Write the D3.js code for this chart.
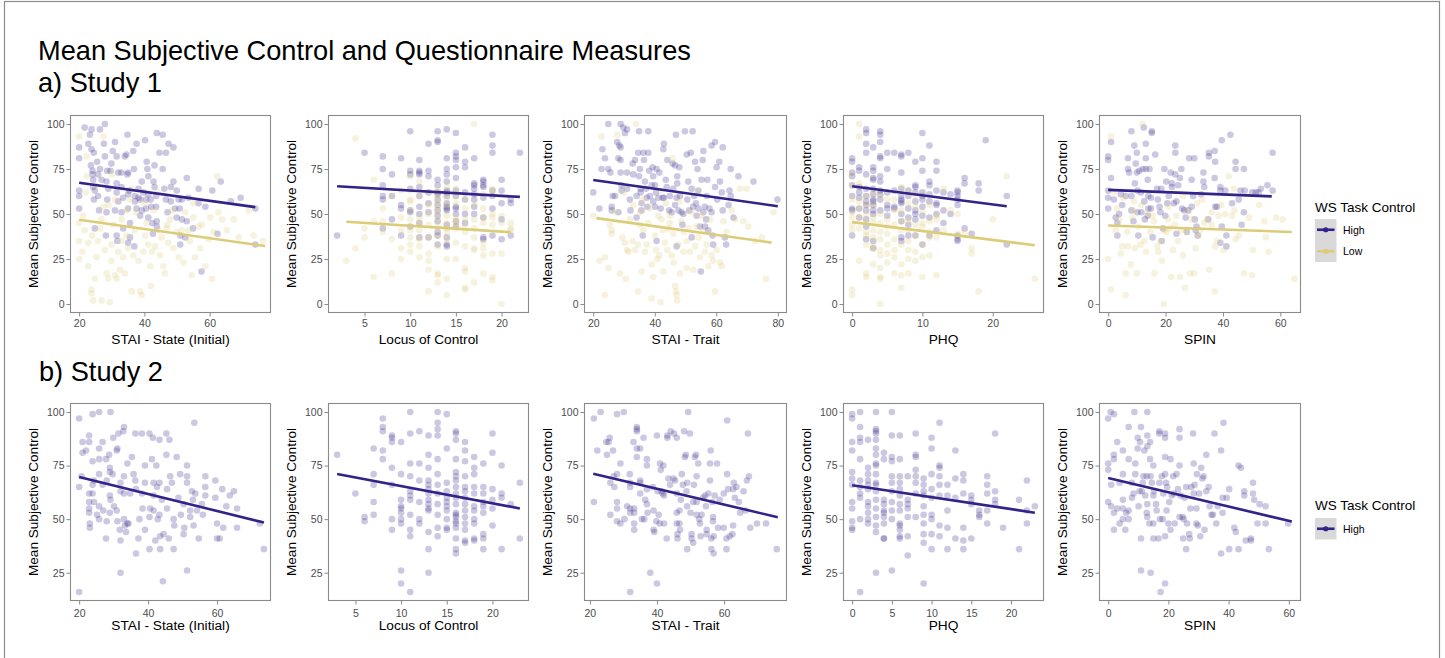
<!DOCTYPE html>
<html><head><meta charset="utf-8">
<script src="https://cdn.jsdelivr.net/npm/d3@7/dist/d3.min.js"></script>
<style>
html,body{margin:0;padding:0;background:#fff;}
svg text{font-family:"Liberation Sans",Arial,Helvetica,sans-serif;}
</style></head>
<body>
<svg id="chart" width="1445" height="658"></svg>
<script>
// ---------------- DATA ----------------
const MEASURES = ["STAI - State (Initial)", "Locus of Control", "STAI - Trait", "PHQ", "SPIN"];
const GROUPS = ["High", "Low"];
const Y_TICKS_S1 = [0, 25, 50, 75, 100];
const Y_TICKS_S2 = [25, 50, 75, 100];
const Y_LIMITS_S1 = [-5, 105];
const Y_LIMITS_S2 = [11.8, 104.2];
const X_LIMITS_S1 = [[17.2, 78.8], [1, 23], [17, 83], [-1.3, 27.3], [-3.2, 67.2]];
const X_LIMITS_S2 = [[17.35, 75.65], [2, 24], [18.25, 78.75], [-1.15, 24.15], [-3.05, 64.05]];
const X_TICKS_S1 = [[20, 40, 60], [5, 10, 15, 20], [20, 40, 60, 80], [0, 10, 20], [0, 20, 40, 60]];
const X_TICKS_S2 = [[20, 40, 60], [5, 10, 15, 20], [20, 40, 60], [0, 5, 10, 15, 20], [0, 20, 40, 60]];

// fitted lines [x0, y0, x1, y1]
const FIT_S1_HIGH = [[20, 67.4, 74, 53.8], [2, 65.4, 22, 59.5], [20, 68.9, 80, 54.3], [0, 65.4, 22, 54.3], [0, 63.4, 57, 59.8]];
const FIT_S1_LOW = [[20, 46.8, 77, 32.2], [3, 45.7, 21, 39.9], [21, 47.7, 78, 34.1], [0, 45.5, 26, 32.6], [0, 43.6, 64, 40]];
const FIT_S2_HIGH = [[20, 69.7, 73.6, 48.4], [3, 71.1, 23, 55.0], [21, 71.2, 76, 50.9], [0, 65.8, 23, 53.0], [0, 69.2, 61, 48.9]];

// Study 1 - STAI State
const S1_STATE_HIGH = [[20,87],[20,81],[20,63],[20,60],[20,53],[21.7,98],[22.8,89],[23.3,94],[23.8,97],[23.8,86],[24.5,84],[23.6,77],[24.1,74],[24.1,72],[24.3,69],[24.3,65],[24.8,63],[24.5,58],[25.5,79],[26.4,97],[26.4,75],[25.8,72],[26.9,69],[25.8,60],[26.1,52],[24.8,42],[27.9,82],[27.6,89],[27.9,100],[28.6,74],[28.4,68],[28.9,64],[28.6,58],[28.4,51],[28.2,38],[29.6,74],[29.9,78],[30.3,85],[31,90],[31.5,82],[32,73],[31.5,67],[31.5,62],[32,57],[31,52],[31.5,38],[31.7,35],[33,73],[33,65],[33.5,59],[33,51],[33.5,42],[34,82],[34.5,83],[34.8,94],[35,73],[34.8,72],[35.4,63],[35,61],[35,53],[35.6,45],[35.6,37],[35,34],[36.6,85],[36.8,75],[37.1,60],[37.1,57],[37.6,53],[36.9,32],[37.6,89],[38.2,64],[38.2,59],[38.7,58],[38.7,49],[39.2,52],[39.2,68],[40.2,91],[39.7,62],[40.5,58],[40.5,53],[40.7,79],[40.9,75],[41.2,71],[41.2,48],[41.2,61],[41.9,58],[42.1,54],[42.4,45],[42.6,39],[42.8,68],[43.1,77],[43.1,65],[43.6,60],[43.6,54],[43.8,46],[43.8,43],[43.8,95],[44.6,84],[45.6,94],[45.6,75],[46.1,64],[46.6,84],[46.6,58],[47.1,51],[47.4,89],[48.1,65],[48.1,57],[48.9,87],[48.9,68],[49.4,53],[49.9,63],[49.9,48],[50.5,58],[50.8,53],[51,38],[51,33],[51.5,47],[51.5,58],[52.5,37],[53,70],[53.5,59],[53,46],[54.9,42],[56.6,56],[56.6,64],[57.5,18],[58.7,54],[60.8,63],[62.4,39],[63.4,68],[66.5,57],[69.5,59],[74,53],[74,33]];
const S1_STATE_LOW = [[20,45],[20,35],[20,25],[21,29],[21.2,49],[21.7,41],[22,62],[22.8,21],[22.8,34],[23.8,8],[23.8,6],[24.3,2],[24.8,14],[25.3,26],[25.8,35],[26.4,42],[26.9,47],[27.4,54],[26.9,2],[27.9,30],[28.4,17],[28.9,14],[29.4,1],[29.9,33],[29.9,24],[30.5,44],[31,58],[31,16],[31.5,14],[32,29],[32.5,19],[33,35],[33.5,26],[34,17],[34.5,38],[34.5,52],[35,31],[35.6,58],[36.1,7],[36.6,27],[37.1,41],[37.5,51],[38.2,24],[38.7,7],[39.2,5],[39.7,29],[40.2,38],[40.7,45],[41.2,33],[41.8,21],[42,10],[42.3,29],[42.8,52],[43.3,32],[44.3,41],[44.8,27],[45.3,37],[45.8,21],[46.3,17],[46.8,42],[47.3,34],[47.9,47],[48.4,52],[48.9,31],[49.9,40],[50.5,26],[51.5,41],[52,23],[52.5,51],[53.5,41],[53.9,35],[54.5,16],[55,48],[55.5,26],[56.6,43],[57.1,31],[57.6,44],[58.7,21],[59.7,36],[60.2,48],[60.7,14],[61.2,40],[62.7,51],[63.8,47],[65.3,41],[67.4,47],[68.9,37],[72,52],[73.5,38],[76.4,35],[62.3,71],[20,93],[27.4,93],[22.3,82],[22.3,71],[30,72],[25,66],[36,64],[44,62],[29,55],[40,56],[33,47],[47,44],[24,38],[55,56]];

// Study 1 - Locus of Control (x, [y values])
const S1_LOCUS_HIGH = [[2,[38]],[5,[84]],[7,[82,75,66,60,58,42]],[8,[72,60,47]],[9,[81,55,53,38]],[10,[96,74,72,64,52,51,43]],[11,[80,74,73,72,65,60,54,50,45,37]],[12,[89,74,71,62,56,51,37]],[13,[96,91,90,69,66,62,61,58,55,52,49,46,40,38,33]],[14,[97,81,75,72,68,63,62,60,56,54,53,52,44,37,33,32]],[15,[95,84,82,80,76,70,63,60,54,53,50,46,43]],[16,[87,79,76,62,58,50,45]],[17,[81,67,66,64,61,58,54,50]],[18,[69,68,66,65,59,48,37,36]],[19,[94,88,84,63,60,53,38]],[20,[69,63,56,47,36]],[21,[58,56,38]],[22,[84]]];
const S1_LOCUS_LOW = [[3,[24]],[4,[92,31]],[5,[42,37]],[6,[69,46,15]],[7,[53,46,40]],[8,[60,36,17]],[9,[63,48,41,31,25]],[10,[71,63,58,57,52,47,41,37,33,29]],[11,[68,60,48,45,41,36,32,26]],[12,[62,55,50,44,37,28,24,19,7]],[13,[63,60,57,54,51,47,43,38,32,17,16,12]],[14,[65,59,55,49,45,42,40,36,25,14,5]],[15,[64,60,56,48,46,44,42,34,25]],[16,[58,53,47,43,40,32,20,18,9,8]],[17,[100,55,47,42,37,31,30,12]],[18,[61,53,48,45,34,31,27,17]],[19,[64,62,50,48,44,28,15,13]],[20,[49,45,28,0]],[21,[45,42,41]]];

// Study 1 - STAI Trait
const S1_TRAIT_HIGH = [[20,62],[22,53],[22.7,75],[23,86],[23.8,81],[24.9,100],[24.9,75],[25.6,73],[26.3,60],[26,54],[26,52],[27.1,60],[27.8,90],[28.5,88],[28.2,81],[28.9,100],[28.9,87],[28.9,80],[28.9,73],[29.2,66],[29.2,63],[28.2,51],[29.8,98],[30.3,95],[31,97],[31,73],[31,64],[31.9,58],[32.1,52],[32.8,78],[33,72],[33.6,80],[34.1,60],[34.1,48],[34.6,84],[34.9,96],[35.2,75],[34.9,71],[35.4,64],[35.4,62],[35.7,56],[35.7,52],[36.1,38],[36.3,84],[36.5,80],[36.8,68],[37.1,64],[37.4,59],[37.6,54],[37.9,84],[37.9,96],[38.2,74],[38.4,60],[39,66],[39.3,76],[39.5,71],[39.5,57],[40.1,54],[40.1,66],[40.4,62],[40.6,75],[40.6,35],[41.2,59],[41.5,73],[41.9,53],[42.6,59],[42.8,86],[43,89],[43,59],[43.6,69],[43.9,65],[44.1,80],[44.7,52],[44.9,60],[45.5,51],[45.8,78],[46,64],[46.6,77],[46.6,55],[46.9,94],[47.1,59],[47.1,32],[47.3,71],[47.3,67],[47.7,52],[48,76],[48.2,60],[48.7,51],[49,44],[49.3,50],[49.8,96],[50.4,83],[50.6,58],[50.9,68],[51.2,52],[51.7,84],[52,64],[52,37],[52.3,96],[52.5,54],[52.8,60],[53.1,79],[53.4,56],[53.6,49],[53.9,75],[54.2,63],[54.2,53],[54.7,43],[55,18],[55.2,69],[55.6,80],[55.8,85],[55.8,51],[56.3,43],[56.3,54],[56.7,47],[56.9,60],[57.1,69],[57.4,41],[57.8,53],[58.5,88],[58.5,51],[58.8,38],[59,33],[59.6,90],[59.6,65],[60.1,76],[60.3,58],[61,79],[61.2,68],[61.8,62],[62.1,87],[62.1,52],[62.8,37],[63.2,33],[64,55],[64.3,63],[64.7,75],[65.6,48],[67.2,71],[72.1,68],[79.9,58],[64.7,60]];
const S1_TRAIT_LOW = [[20,49],[22,24],[22.7,93],[23.8,5],[23.8,26],[24.9,20],[25.4,44],[26,39],[26,41],[27.1,51],[27.8,94],[28.7,17],[29.5,37],[30.3,34],[30.6,14],[31,30],[31.4,29],[31.9,47],[32.8,35],[33.6,30],[33.9,100],[34.6,33],[34.6,7],[35.2,51],[35.2,44],[35.7,18],[36.3,41],[36.8,29],[37.4,33],[37.9,45],[38.4,53],[39,22],[39,3],[39.5,15],[40.1,38],[40.4,30],[40.8,25],[41.2,49],[41.5,27],[41.9,1],[42.2,47],[42.6,41],[42.8,18],[43.3,34],[43.6,56],[44.1,30],[44.4,42],[44.9,45],[45.5,27],[45.8,81],[46,39],[46.2,23],[46.6,10],[46.9,7],[47.1,5],[47.3,2],[47.7,33],[48.2,17],[48.7,46],[49.3,29],[49.5,40],[50.4,20],[50.4,35],[50.9,42],[51.4,29],[52,51],[52.5,19],[53.1,32],[53.6,43],[54.2,37],[54.7,26],[55.2,49],[55.8,41],[56.3,29],[56.9,33],[57.4,21],[58,47],[58.5,27],[59,24],[59.6,7],[60.1,30],[61.2,23],[61.8,21],[62.3,46],[63.4,40],[65,52],[66.1,47],[67.7,64],[68.8,46],[70.4,43],[72.6,35],[74.8,37],[76.2,14],[78.6,51],[69.9,64],[30,62],[36,58],[42,63],[48,57],[54,62],[33,55],[45,49]];

// Study 1 - PHQ (x, [y values])
const S1_PHQ_HIGH = [[0,[81,79,73,71,66,60,53,52,38]],[1,[76,74,65,62,59,53,48]],[2,[97,95,89,84,72,64,60,57,55,52,47,43,36]],[3,[87,76,74,70,69,64,61,58,57,55,52,50,35,31]],[4,[96,94,90,82,81,71,68,63,61,58,52]],[5,[84,75,62,55,53,49]],[6,[84,63,54,53]],[7,[83,82,73,64,60,58,57,56,50,46,37,35]],[8,[84,63,60,53,48,44,38]],[9,[79,66,65,62,57,52,50,47,38]],[10,[95,81,74,62,60,58,54,49,33]],[11,[88,68,66,61,57,48,38]],[12,[79,74,63,56,55,50,41]],[13,[62,52,45]],[14,[61,50]],[15,[63,62,60,58,55,38,36,35]],[16,[70,67,42]],[17,[39]],[18,[67,63]],[19,[91]],[22,[60,33]]];
const S1_PHQ_LOW = [[0,[72,66,58,51,48,44,41,8,5]],[1,[100,93,67,57,53,48,42,24]],[2,[60,55,50,46,40,38,33,17,15]],[3,[62,55,48,45,41,37,32,31,22]],[4,[60,50,45,40,36,30,27,20,15,14,0]],[5,[58,47,43,39,33,28,23]],[6,[58,52,44,36,30,26,17]],[7,[65,52,46,41,33,22,16,9]],[8,[62,56,46,41,35,30,25,17]],[9,[60,54,44,38,29,24]],[10,[61,51,45,43,33,26,15]],[11,[55,46,40,37,27]],[12,[49,47,37,16]],[13,[64,41]],[14,[52]],[15,[50,39]],[16,[40]],[17,[31,28]],[18,[7]],[20,[47]],[22,[71]],[26,[14]]];

// Study 1 - SPIN
const S1_SPIN_HIGH = [[0,82],[0,80],[0,63],[0,59],[0,53],[1,70],[1,90],[2,58],[2.6,48],[3.2,45],[3.2,38],[4.4,61],[3.8,50],[4.9,55],[6.1,60],[6.9,81],[6.9,75],[7.3,73],[8.1,96],[8.1,60],[8.1,52],[8.8,46],[9.1,88],[9.3,67],[9.6,78],[10,84],[10,73],[10.2,63],[10.2,51],[10.5,38],[10.8,74],[11.4,62],[11.6,51],[12,75],[12.4,98],[12.6,57],[12.8,47],[13.1,89],[13.1,81],[13.1,75],[13.8,69],[13.8,49],[14,60],[14,53],[14.4,75],[15.2,96],[15.2,95],[14.9,59],[14.9,53],[15.5,37],[16.4,83],[17,64],[17.3,58],[17.9,54],[18.2,51],[18.5,64],[18.7,35],[19.1,42],[19.6,75],[19.9,49],[20.2,68],[20.6,56],[21.1,60],[21.8,73],[22.2,67],[22.2,65],[22.9,56],[23.4,72],[23.4,88],[23.4,84],[23.8,57],[23.8,39],[24.4,66],[25,70],[25.5,75],[25.8,53],[26.5,52],[27,48],[27.4,40],[27.9,52],[28.2,81],[29.1,54],[29.1,69],[29.6,60],[30,81],[30.2,47],[30.5,41],[30.8,43],[31.2,38],[32.4,61],[33.2,73],[33.2,68],[33.5,65],[34.9,47],[35.1,82],[35.1,84],[37.1,85],[37.1,70],[37.3,79],[37.3,54],[37.9,54],[39.1,34],[39.1,65],[39.1,63],[39.6,43],[39.6,91],[40.8,63],[41.2,38],[41.2,32],[42.6,94],[43.2,56],[44.4,75],[44.4,79],[45.5,58],[46.5,44],[47.3,75],[47.3,51],[47.6,63],[51.4,62],[52.4,62],[53.2,64],[55.5,66],[57.3,84],[57.3,63],[50.2,62],[46.1,63]];
const S1_SPIN_LOW = [[0,25],[1,93],[1,8],[2,62],[2.6,41],[3.8,47],[4.4,28],[4.9,32],[5.3,59],[6.1,5],[6.1,17],[6.7,40],[6.9,32],[7.9,22],[8.5,48],[8.8,52],[9.3,31],[10,17],[10.5,43],[11.2,33],[11.6,55],[12,100],[12.6,35],[13.2,29],[13.8,50],[14.7,40],[15.5,49],[16.1,17],[17.1,32],[17.5,29],[18.2,35],[18.7,24],[19.4,0],[19.6,41],[20.2,40],[20.8,47],[21.4,42],[22,15],[22.6,30],[23.2,44],[23.8,49],[24.4,35],[25,15],[25.5,41],[26.1,27],[26.7,9],[27.3,41],[27.9,52],[28.5,17],[29.1,47],[30,17],[30.5,31],[31.4,38],[32,41],[32.8,58],[33.5,45],[34.4,47],[35.2,19],[36.1,51],[37.1,7],[37.3,32],[37.9,35],[38.5,49],[39.4,55],[40.2,30],[40.8,50],[42,71],[43.2,49],[43.8,64],[44.4,36],[45.5,38],[47.3,17],[49.1,48],[50.2,16],[50.5,30],[52.6,55],[54.4,46],[54.9,37],[55.9,29],[58.5,48],[60.8,47],[64.9,14],[3,53],[9,57],[16,46],[21,54],[26,60],[31,56],[36,44],[44,52]];

// Study 2 - STAI State
const S2_STATE_HIGH = [[20,97],[20,65],[20,16],[21,86],[21,81],[20.7,70],[22,82],[22.9,89],[22.9,86],[22.9,62],[22.9,58],[22.9,55],[22.9,53],[23.1,48],[23.1,46],[23.9,99],[23.9,77],[23.9,66],[23.9,62],[24.3,68],[24.3,58],[25.2,52],[25.8,100],[25.8,83],[25.8,78],[25.8,71],[25.8,56],[25.8,50],[26.8,86],[26.8,66],[27,54],[27.8,78],[28,68],[28,49],[27.8,41],[28.7,80],[28.9,74],[28.9,72],[28.9,61],[29.1,59],[28.9,53],[29.1,100],[29.7,71],[29.9,88],[30.1,56],[30.9,82],[31.1,83],[30.9,54],[31.1,49],[31.4,90],[31.8,45],[32,67],[32,63],[32,40],[32,25],[32.8,91],[33,93],[33,70],[33,62],[33,50],[33.3,47],[33.6,44],[34,76],[34,48],[34.3,48],[34.8,62],[35.3,79],[35.8,71],[36.3,68],[36.3,90],[36.5,34],[36.5,64],[37.2,41],[37.5,50],[38.2,90],[38.2,62],[38.4,55],[39.1,75],[39.1,67],[39.1,45],[40.4,90],[40.4,36],[40.4,51],[40.6,55],[41.1,78],[41.4,88],[41.6,67],[41.6,61],[41.6,54],[42.1,40],[42.4,75],[42.6,65],[42.8,50],[43.3,87],[43.3,67],[43.3,52],[43.5,42],[43.5,36],[44,59],[44.3,21],[44.5,43],[45.3,90],[45.3,80],[45.5,64],[45.5,55],[46,41],[46.2,87],[46.4,70],[46.9,67],[47.4,50],[47.4,36],[47.6,47],[48.3,79],[48.8,60],[49.3,71],[49.5,52],[50.3,57],[50.3,43],[50.5,46],[51.3,75],[51.3,70],[51.3,67],[51.3,26],[52.2,54],[52.2,51],[52.7,63],[53,59],[53.2,47],[53.4,95],[53.7,62],[54.2,54],[54.7,41],[55.6,57],[55.9,52],[56.6,65],[56.6,70],[56.6,61],[59.5,68],[59.5,60],[60,48],[60,41],[60.8,41],[61.5,64],[61.8,46],[62.7,56],[63.7,61],[64.9,63],[65.8,55],[65.8,46],[72.4,48],[73.6,36]];

// Study 2 - Locus of Control (x, [y values])
const S2_LOCUS_HIGH = [[3,[80]],[5,[62]],[6,[51,49]],[7,[83,71,66,58,52]],[8,[97,93,91,82,78]],[9,[89,88,86,74,66,50,45]],[10,[86,71,59,56,55,53,50,48,26,20]],[11,[100,90,76,70,63,61,59,52,45,42,16]],[12,[91,76,68,58,50,48]],[13,[89,80,74,68,66,64,62,59,57,55,54,44,36,25]],[14,[100,95,92,89,78,71,66,62,57,52,46,42]],[15,[99,83,67,63,60,58,56,54,50,46,45]],[16,[91,90,87,78,72,70,68,65,62,60,57,53,52,51,49,48,46,41,36,34]],[17,[86,82,77,70,65,63,60,57,54,51,48,45,40,39]],[18,[79,74,71,65,62,56,54,50,48,41,40]],[19,[76,65,62,58,56,53,43,41,36]],[20,[90,81,64,59,55,47]],[21,[75,62,60,36]],[22,[57]],[23,[67,41]]];

// Study 2 - STAI Trait
const S2_TRAIT_HIGH = [[21.2,97],[21.2,58],[22.2,82],[23.2,100],[24.9,86],[25.1,80],[25.9,88],[25.6,86],[26.1,67],[26.1,52],[26.9,82],[27.1,70],[27.3,65],[28.1,71],[28.1,99],[28.1,58],[28.1,55],[28.1,49],[29.1,76],[29.1,48],[30.1,100],[30.3,50],[31.1,56],[31.9,71],[32,67],[32,65],[32,55],[32,53],[32,16],[33,86],[33.2,55],[33.2,48],[33.2,45],[33.2,53],[34,93],[34,92],[34,91],[34,83],[34,79],[35,83],[35,68],[35,67],[35,62],[35.5,50],[36,88],[36.2,50],[36.5,59],[37,78],[37,75],[37,64],[37,57],[37.2,53],[38,25],[38.8,65],[39,54],[39,45],[39.2,44],[39.8,49],[40,89],[40,20],[40.2,63],[40.5,52],[40.8,48],[40.9,76],[41.1,73],[41.4,63],[41.7,62],[41.9,75],[42.1,61],[42.1,48],[42.9,41],[43.1,89],[43.1,88],[43.4,69],[43.9,66],[44.1,91],[44.9,69],[45.1,90],[45.4,68],[45.9,88],[45.9,62],[45.9,53],[45.9,48],[46.1,43],[46.1,41],[46.7,54],[46.7,48],[46.9,45],[47.1,59],[47.4,71],[47.7,66],[48.1,91],[48.3,79],[48.6,80],[48.8,63],[49,56],[49,67],[49,36],[49.3,100],[49.8,90],[50,53],[50.3,43],[50.3,41],[50.8,58],[50.8,39],[51,66],[51.3,79],[51.6,80],[51.8,70],[51.8,58],[51.8,52],[52.3,76],[52.6,50],[52.8,48],[53,42],[53.3,52],[53.8,60],[54.3,61],[54.6,56],[54.8,45],[54.8,43],[55.3,62],[55.8,76],[55.8,68],[56,82],[56.2,41],[56.2,36],[56.5,58],[56.7,51],[56.7,49],[56.9,42],[56.9,34],[57.2,61],[57.9,76],[58.2,46],[58.7,59],[59.9,62],[59.9,46],[60.7,41],[60.7,36],[60.9,96],[60.9,71],[61.2,64],[61.7,42],[62.5,43],[62.7,47],[62.7,64],[62.9,67],[63.2,60],[63.7,65],[64.4,58],[64.8,53],[65.8,63],[66.4,54],[66.8,68],[67.1,90],[67.4,70],[67.8,46],[69.8,48],[72.5,48],[75.7,36]];

// Study 2 - PHQ (x, [y values])
const S2_PHQ_HIGH = [[0,[99,97,86,82,72,69,66,58,55,49,46,45]],[1,[100,93,88,86,78,68,65,62,60,50,16]],[2,[87,74,71,68,66,64,58,56,53,50,48]],[3,[100,92,91,90,87,83,80,76,75,71,67,66,63,59,55,51,47,44,25]],[4,[81,78,59,57,54,53,51,48,41,41]],[5,[100,89,79,77,70,67,63,58,54,50,26]],[6,[89,78,70,67,64,61,57,54,48,47,45,42,41]],[7,[70,59,57,55,51,42,33]],[8,[90,80,79,73,70,67,62,51]],[9,[69,66,63,61,56,52,48,43,39,20]],[10,[88,83,71,64,60,52,50,43,36]],[11,[95,75,74,70,66,61,47,42]],[12,[66,61,54,46,36]],[13,[82,69,60,41]],[14,[71,68,62,46,40,36]],[15,[61,59,57,41]],[16,[54,52,51]],[17,[70,66,62,54,48]],[18,[90,63,59,57]],[19,[46]],[21,[59,36]],[22,[68,54,48]],[23,[56]]];

// Study 2 - SPIN
const S2_SPIN_HIGH = [[0,97],[0,76],[0,73],[0,58],[0.8,100],[1,66],[1,56],[1.9,99],[1.9,80],[1.9,78],[1.9,53],[1.9,45],[3,86],[3,55],[3.8,48],[3.8,67],[4.9,82],[4.9,71],[4.9,59],[4.9,55],[4.9,50],[5.7,45],[6,53],[6.8,93],[6.8,78],[6.8,54],[6.8,50],[7.9,60],[7.9,67],[8.4,62],[8.7,100],[9,76],[9,71],[9.8,88],[9.8,83],[10.1,56],[10.4,63],[10.6,86],[10.9,93],[10.9,41],[10.9,26],[11.2,63],[11.5,67],[11.7,70],[12,82],[12.3,61],[12.8,70],[12.8,53],[13,100],[13,89],[13,84],[13,57],[13,51],[13.7,48],[13.9,86],[13.9,78],[14.1,70],[14.1,25],[14.5,67],[15,75],[15,61],[15,48],[15,41],[15.2,63],[15.9,57],[16.1,54],[16.7,41],[17,67],[17,91],[17,90],[17.2,50],[17.4,16],[17.8,70],[18.1,50],[18.3,62],[18.9,90],[18.9,88],[18.9,79],[18.9,71],[18.9,42],[18.9,20],[19.2,67],[19.4,54],[19.6,65],[20,48],[20.3,58],[20.7,45],[20.7,78],[21.1,61],[21.6,70],[21.8,62],[22.1,48],[22.7,71],[23.2,64],[23.7,92],[23.7,88],[23.7,75],[23.7,51],[24,61],[24.7,51],[24.9,41],[25.1,50],[25.4,60],[25.9,65],[25.9,36],[26.2,48],[26.9,43],[27.1,41],[27.3,55],[27.6,65],[28.2,90],[28.4,76],[28.4,62],[28.7,66],[29.3,55],[29.3,48],[29.5,71],[29.8,47],[30.2,62],[30.6,42],[30.9,74],[31.3,69],[31.7,70],[32,45],[32.6,80],[32.6,63],[33.4,65],[33.7,56],[34.3,52],[34.8,52],[35.3,90],[35.9,48],[36.4,56],[37.5,82],[37.5,34],[38,60],[38,53],[38.3,95],[39.4,60],[40.2,64],[40.2,36],[41.9,46],[42.4,44],[43.3,75],[44.1,74],[43.3,36],[45.2,63],[45.2,61],[45.7,40],[47.4,41],[47.4,40],[48.1,67],[48.1,62],[48.5,59],[49.6,48],[50.3,57],[52.3,56],[52.3,48],[53.4,36],[59.8,48]];

// ---------------- HELPERS ----------------
const expand = grouped => grouped.flatMap(([x, ys]) => ys.map(y => [x, y]));

const STUDY1 = [
  { high: S1_STATE_HIGH, low: S1_STATE_LOW },
  { high: expand(S1_LOCUS_HIGH), low: expand(S1_LOCUS_LOW) },
  { high: S1_TRAIT_HIGH, low: S1_TRAIT_LOW },
  { high: expand(S1_PHQ_HIGH), low: expand(S1_PHQ_LOW) },
  { high: S1_SPIN_HIGH, low: S1_SPIN_LOW }
];
const STUDY2 = [
  { high: S2_STATE_HIGH },
  { high: expand(S2_LOCUS_HIGH) },
  { high: S2_TRAIT_HIGH },
  { high: expand(S2_PHQ_HIGH) },
  { high: S2_SPIN_HIGH }
];

// ---------------- STYLE / LAYOUT ----------------
const COL_HIGH = "#332288", COL_LOW = "#DDCC77";
const PT_ALPHA = 0.25, PT_R = 3.3, LINE_W = 2.6;
const BORDER = "#8a8a8a", TICK_TXT = "#4d4d4d";
const COLS = [[70, 271], [328, 529], [584, 787], [843, 1044], [1099, 1301]];
const ROWS = [
  { top: 115, bottom: 313, tickOff: 14, titleOff: 31 },
  { top: 403, bottom: 601, tickOff: 15.5, titleOff: 29 }
];

const svg = d3.select("#chart");

// outer frame
svg.append("rect").attr("x", 4.5).attr("y", 1.5).attr("width", 1435).attr("height", 700)
  .attr("fill", "none").attr("stroke", "#8c8c8c").attr("stroke-width", 1.2);

// headings
svg.append("text").attr("x", 38).attr("y", 59.5).attr("font-size", 27.2).attr("fill", "#000")
  .text("Mean Subjective Control and Questionnaire Measures");
svg.append("text").attr("x", 38).attr("y", 92).attr("font-size", 27.2).attr("fill", "#000").text("a) Study 1");
svg.append("text").attr("x", 39).attr("y", 381).attr("font-size", 27.2).attr("fill", "#000").text("b) Study 2");

function drawPanel(rowIdx, colIdx, xLim, xTicks, yLim, yTicks, series, fits) {
  const [x0, x1] = COLS[colIdx];
  const row = ROWS[rowIdx];
  const x = d3.scaleLinear().domain(xLim).range([x0, x1]);
  const y = d3.scaleLinear().domain(yLim).range([row.bottom, row.top]);
  const g = svg.append("g");

  g.append("rect").attr("x", x0).attr("y", row.top).attr("width", x1 - x0).attr("height", row.bottom - row.top)
    .attr("fill", "#fff");

  const clipId = `clip-${rowIdx}-${colIdx}`;
  g.append("clipPath").attr("id", clipId).append("rect")
    .attr("x", x0).attr("y", row.top).attr("width", x1 - x0).attr("height", row.bottom - row.top);
  const plot = g.append("g").attr("clip-path", `url(#${clipId})`);

  series.forEach(s => {
    plot.append("g").selectAll("circle").data(s.data).join("circle")
      .attr("cx", d => x(d[0])).attr("cy", d => y(d[1])).attr("r", PT_R)
      .attr("fill", s.color).attr("fill-opacity", PT_ALPHA);
  });
  fits.forEach(f => {
    plot.append("line")
      .attr("x1", x(f.v[0])).attr("y1", y(f.v[1])).attr("x2", x(f.v[2])).attr("y2", y(f.v[3]))
      .attr("stroke", f.color).attr("stroke-width", LINE_W).attr("stroke-linecap", "butt");
  });

  // axes
  const xAxis = d3.axisBottom(x).tickValues(xTicks).tickSize(3.5).tickPadding(2).tickFormat(d3.format("d"));
  const yAxis = d3.axisLeft(y).tickValues(yTicks).tickSize(3.5).tickPadding(2).tickFormat(d3.format("d"));
  const gx = g.append("g").attr("transform", `translate(0,${row.bottom})`).call(xAxis);
  const gy = g.append("g").attr("transform", `translate(${x0},0)`).call(yAxis);
  [gx, gy].forEach(a => {
    a.select(".domain").remove();
    a.selectAll(".tick line").attr("stroke", BORDER).attr("stroke-width", 1);
    a.selectAll(".tick text").attr("fill", TICK_TXT).attr("font-size", 10.5)
      .attr("font-family", '"Liberation Sans",Arial,sans-serif');
  });
  gx.selectAll(".tick text").attr("dy", null).attr("y", row.tickOff - 2);
  gx.selectAll(".tick text").attr("dominant-baseline", "auto").attr("y", row.tickOff);

  g.append("rect").attr("x", x0 + 0.5).attr("y", row.top + 0.5).attr("width", x1 - x0 - 1).attr("height", row.bottom - row.top - 1)
    .attr("fill", "none").attr("stroke", BORDER).attr("stroke-width", 1.1);

  // axis titles
  g.append("text").attr("x", (x0 + x1) / 2).attr("y", row.bottom + row.titleOff)
    .attr("text-anchor", "middle").attr("font-size", 13.7).attr("fill", "#000").text(MEASURES[colIdx]);
  g.append("text").attr("transform", `translate(${x0 - 32.5},${(row.top + row.bottom) / 2}) rotate(-90)`)
    .attr("text-anchor", "middle").attr("font-size", 13.6).attr("fill", "#000").text("Mean Subjective Control");
}

for (let i = 0; i < 5; i++) {
  drawPanel(0, i, X_LIMITS_S1[i], X_TICKS_S1[i], Y_LIMITS_S1, Y_TICKS_S1,
    [{ data: STUDY1[i].high, color: COL_HIGH }, { data: STUDY1[i].low, color: COL_LOW }],
    [{ v: FIT_S1_HIGH[i], color: COL_HIGH }, { v: FIT_S1_LOW[i], color: COL_LOW }]);
  drawPanel(1, i, X_LIMITS_S2[i], X_TICKS_S2[i], Y_LIMITS_S2, Y_TICKS_S2,
    [{ data: STUDY2[i].high, color: COL_HIGH }],
    [{ v: FIT_S2_HIGH[i], color: COL_HIGH }]);
}

// legends
function drawLegend(titleY, keyTop, groups) {
  const lg = svg.append("g");
  lg.append("text").attr("x", 1315).attr("y", titleY).attr("font-size", 13.5).attr("fill", "#000").text("WS Task Control");
  const keyH = 21.5;
  lg.append("rect").attr("x", 1315).attr("y", keyTop).attr("width", 21.5).attr("height", keyH * groups.length)
    .attr("fill", "#d9d9d9");
  groups.forEach((gName, i) => {
    const cy = keyTop + keyH * i + keyH / 2;
    const col = gName === "High" ? COL_HIGH : COL_LOW;
    lg.append("line").attr("x1", 1317).attr("x2", 1334.5).attr("y1", cy).attr("y2", cy)
      .attr("stroke", col).attr("stroke-width", LINE_W);
    lg.append("circle").attr("cx", 1325.75).attr("cy", cy).attr("r", 2.6).attr("fill", col);
    lg.append("text").attr("x", 1343).attr("y", cy + 3.8).attr("font-size", 10.5).attr("fill", "#000").text(gName);
  });
}
drawLegend(211.7, 219, GROUPS);
drawLegend(509.5, 518, [GROUPS[0]]);
</script>
</body></html>
